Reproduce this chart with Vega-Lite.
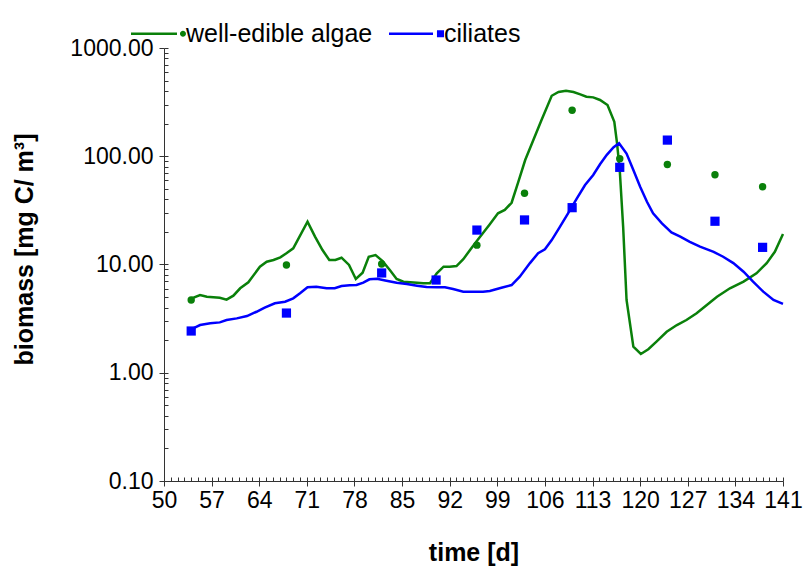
{
  "$schema": "https://vega.github.io/schema/vega-lite/v6.json",
  "width": 619,
  "height": 433,
  "autosize": {"type": "none"},
  "padding": {"left": 164, "top": 48, "right": 21, "bottom": 88},
  "background": "white",
  "config": {
    "view": {"stroke": null},
    "font": "Liberation Sans",
    "axis": {"grid": false}
  },
  "datasets": {
    "model": [
      {"series": "well-edible algae", "t": 53.7, "v": 4.77},
      {"series": "well-edible algae", "t": 55.3, "v": 5.22},
      {"series": "well-edible algae", "t": 56.3, "v": 5.04},
      {"series": "well-edible algae", "t": 58.2, "v": 4.93},
      {"series": "well-edible algae", "t": 59.2, "v": 4.73},
      {"series": "well-edible algae", "t": 60.2, "v": 5.15},
      {"series": "well-edible algae", "t": 61.2, "v": 6.03},
      {"series": "well-edible algae", "t": 62.4, "v": 6.85},
      {"series": "well-edible algae", "t": 64.1, "v": 9.54},
      {"series": "well-edible algae", "t": 65.1, "v": 10.6},
      {"series": "well-edible algae", "t": 66.1, "v": 11.0},
      {"series": "well-edible algae", "t": 67.1, "v": 11.65},
      {"series": "well-edible algae", "t": 68.0, "v": 12.7},
      {"series": "well-edible algae", "t": 69.0, "v": 14.1},
      {"series": "well-edible algae", "t": 71.1, "v": 24.9},
      {"series": "well-edible algae", "t": 72.2, "v": 18.1},
      {"series": "well-edible algae", "t": 73.3, "v": 13.6},
      {"series": "well-edible algae", "t": 74.3, "v": 11.0},
      {"series": "well-edible algae", "t": 75.2, "v": 11.0},
      {"series": "well-edible algae", "t": 76.1, "v": 11.55},
      {"series": "well-edible algae", "t": 77.2, "v": 9.9},
      {"series": "well-edible algae", "t": 78.2, "v": 7.35},
      {"series": "well-edible algae", "t": 79.2, "v": 8.4},
      {"series": "well-edible algae", "t": 80.1, "v": 11.8},
      {"series": "well-edible algae", "t": 81.1, "v": 12.2},
      {"series": "well-edible algae", "t": 82.1, "v": 10.8},
      {"series": "well-edible algae", "t": 83.2, "v": 8.9},
      {"series": "well-edible algae", "t": 84.2, "v": 7.35},
      {"series": "well-edible algae", "t": 85.2, "v": 6.94},
      {"series": "well-edible algae", "t": 87.2, "v": 6.79},
      {"series": "well-edible algae", "t": 88.1, "v": 6.7},
      {"series": "well-edible algae", "t": 89.1, "v": 6.7},
      {"series": "well-edible algae", "t": 90.1, "v": 8.29},
      {"series": "well-edible algae", "t": 91.1, "v": 9.54},
      {"series": "well-edible algae", "t": 92.0, "v": 9.54},
      {"series": "well-edible algae", "t": 93.0, "v": 9.68},
      {"series": "well-edible algae", "t": 94.0, "v": 11.2},
      {"series": "well-edible algae", "t": 95.1, "v": 13.9},
      {"series": "well-edible algae", "t": 96.1, "v": 16.8},
      {"series": "well-edible algae", "t": 97.9, "v": 23.5},
      {"series": "well-edible algae", "t": 99.1, "v": 29.7},
      {"series": "well-edible algae", "t": 100.1, "v": 31.9},
      {"series": "well-edible algae", "t": 101.1, "v": 37.2},
      {"series": "well-edible algae", "t": 102.1, "v": 58.2},
      {"series": "well-edible algae", "t": 103.1, "v": 92.3},
      {"series": "well-edible algae", "t": 104.3, "v": 141},
      {"series": "well-edible algae", "t": 105.5, "v": 216},
      {"series": "well-edible algae", "t": 107.0, "v": 362},
      {"series": "well-edible algae", "t": 108.0, "v": 392},
      {"series": "well-edible algae", "t": 109.1, "v": 403},
      {"series": "well-edible algae", "t": 110.2, "v": 392},
      {"series": "well-edible algae", "t": 111.2, "v": 373},
      {"series": "well-edible algae", "t": 112.1, "v": 355},
      {"series": "well-edible algae", "t": 113.1, "v": 350},
      {"series": "well-edible algae", "t": 114.1, "v": 331},
      {"series": "well-edible algae", "t": 115.2, "v": 297},
      {"series": "well-edible algae", "t": 116.2, "v": 208},
      {"series": "well-edible algae", "t": 116.6, "v": 132},
      {"series": "well-edible algae", "t": 117.0, "v": 74.6},
      {"series": "well-edible algae", "t": 117.5, "v": 22.3},
      {"series": "well-edible algae", "t": 118.0, "v": 4.70},
      {"series": "well-edible algae", "t": 119.0, "v": 1.74},
      {"series": "well-edible algae", "t": 120.1, "v": 1.49},
      {"series": "well-edible algae", "t": 121.2, "v": 1.65},
      {"series": "well-edible algae", "t": 122.4, "v": 1.94},
      {"series": "well-edible algae", "t": 123.9, "v": 2.39},
      {"series": "well-edible algae", "t": 125.4, "v": 2.76},
      {"series": "well-edible algae", "t": 126.8, "v": 3.07},
      {"series": "well-edible algae", "t": 128.3, "v": 3.54},
      {"series": "well-edible algae", "t": 129.8, "v": 4.23},
      {"series": "well-edible algae", "t": 131.3, "v": 5.04},
      {"series": "well-edible algae", "t": 133.2, "v": 6.03},
      {"series": "well-edible algae", "t": 135.2, "v": 6.94},
      {"series": "well-edible algae", "t": 137.1, "v": 8.29},
      {"series": "well-edible algae", "t": 138.6, "v": 10.3},
      {"series": "well-edible algae", "t": 139.8, "v": 13.1},
      {"series": "well-edible algae", "t": 141.0, "v": 19.1},
      {"series": "ciliates", "t": 53.6, "v": 2.54},
      {"series": "ciliates", "t": 54.3, "v": 2.57},
      {"series": "ciliates", "t": 55.3, "v": 2.76},
      {"series": "ciliates", "t": 56.8, "v": 2.86},
      {"series": "ciliates", "t": 58.2, "v": 2.92},
      {"series": "ciliates", "t": 59.2, "v": 3.07},
      {"series": "ciliates", "t": 60.7, "v": 3.18},
      {"series": "ciliates", "t": 62.2, "v": 3.34},
      {"series": "ciliates", "t": 63.6, "v": 3.66},
      {"series": "ciliates", "t": 64.8, "v": 3.99},
      {"series": "ciliates", "t": 66.3, "v": 4.38},
      {"series": "ciliates", "t": 67.8, "v": 4.53},
      {"series": "ciliates", "t": 69.0, "v": 4.87},
      {"series": "ciliates", "t": 70.0, "v": 5.42},
      {"series": "ciliates", "t": 71.1, "v": 6.16},
      {"series": "ciliates", "t": 72.4, "v": 6.24},
      {"series": "ciliates", "t": 73.9, "v": 6.03},
      {"series": "ciliates", "t": 75.1, "v": 6.03},
      {"series": "ciliates", "t": 76.1, "v": 6.33},
      {"series": "ciliates", "t": 77.3, "v": 6.42},
      {"series": "ciliates", "t": 78.3, "v": 6.46},
      {"series": "ciliates", "t": 79.3, "v": 6.79},
      {"series": "ciliates", "t": 80.2, "v": 7.30},
      {"series": "ciliates", "t": 81.3, "v": 7.39},
      {"series": "ciliates", "t": 82.7, "v": 7.08},
      {"series": "ciliates", "t": 84.2, "v": 6.79},
      {"series": "ciliates", "t": 85.7, "v": 6.60},
      {"series": "ciliates", "t": 87.2, "v": 6.37},
      {"series": "ciliates", "t": 88.6, "v": 6.19},
      {"series": "ciliates", "t": 90.1, "v": 6.16},
      {"series": "ciliates", "t": 91.3, "v": 6.16},
      {"series": "ciliates", "t": 92.5, "v": 5.94},
      {"series": "ciliates", "t": 94.0, "v": 5.61},
      {"series": "ciliates", "t": 95.5, "v": 5.61},
      {"series": "ciliates", "t": 96.9, "v": 5.61},
      {"series": "ciliates", "t": 97.9, "v": 5.69},
      {"series": "ciliates", "t": 99.6, "v": 6.10},
      {"series": "ciliates", "t": 101.1, "v": 6.46},
      {"series": "ciliates", "t": 102.3, "v": 7.71},
      {"series": "ciliates", "t": 103.8, "v": 10.3},
      {"series": "ciliates", "t": 105.0, "v": 12.7},
      {"series": "ciliates", "t": 106.0, "v": 13.8},
      {"series": "ciliates", "t": 107.0, "v": 16.8},
      {"series": "ciliates", "t": 108.2, "v": 22.3},
      {"series": "ciliates", "t": 109.4, "v": 29.7},
      {"series": "ciliates", "t": 110.7, "v": 40.9},
      {"series": "ciliates", "t": 111.9, "v": 54.2},
      {"series": "ciliates", "t": 113.1, "v": 67.1},
      {"series": "ciliates", "t": 114.1, "v": 84.3},
      {"series": "ciliates", "t": 115.1, "v": 103},
      {"series": "ciliates", "t": 116.1, "v": 121},
      {"series": "ciliates", "t": 116.9, "v": 132},
      {"series": "ciliates", "t": 118.0, "v": 106},
      {"series": "ciliates", "t": 119.0, "v": 74.6},
      {"series": "ciliates", "t": 120.0, "v": 52.3},
      {"series": "ciliates", "t": 121.0, "v": 38.0},
      {"series": "ciliates", "t": 121.9, "v": 29.7},
      {"series": "ciliates", "t": 123.2, "v": 24.0},
      {"series": "ciliates", "t": 124.6, "v": 19.8},
      {"series": "ciliates", "t": 125.9, "v": 18.1},
      {"series": "ciliates", "t": 127.3, "v": 16.2},
      {"series": "ciliates", "t": 128.8, "v": 14.6},
      {"series": "ciliates", "t": 130.8, "v": 13.1},
      {"series": "ciliates", "t": 132.2, "v": 11.8},
      {"series": "ciliates", "t": 133.7, "v": 10.3},
      {"series": "ciliates", "t": 135.2, "v": 8.58},
      {"series": "ciliates", "t": 136.6, "v": 6.94},
      {"series": "ciliates", "t": 138.1, "v": 5.61},
      {"series": "ciliates", "t": 139.6, "v": 4.70},
      {"series": "ciliates", "t": 141.0, "v": 4.32}
    ],
    "obs": [
      {"series": "well-edible algae", "t": 54, "v": 4.7},
      {"series": "well-edible algae", "t": 68, "v": 9.9},
      {"series": "well-edible algae", "t": 82, "v": 10.1},
      {"series": "well-edible algae", "t": 90, "v": 7.2},
      {"series": "well-edible algae", "t": 96, "v": 15.1},
      {"series": "well-edible algae", "t": 103, "v": 45.5},
      {"series": "well-edible algae", "t": 110, "v": 266},
      {"series": "well-edible algae", "t": 117, "v": 95},
      {"series": "well-edible algae", "t": 124, "v": 84},
      {"series": "well-edible algae", "t": 131, "v": 67.5},
      {"series": "well-edible algae", "t": 138, "v": 52.3},
      {"series": "ciliates", "t": 54, "v": 2.43},
      {"series": "ciliates", "t": 68, "v": 3.56},
      {"series": "ciliates", "t": 82, "v": 8.35},
      {"series": "ciliates", "t": 90, "v": 7.19},
      {"series": "ciliates", "t": 96, "v": 20.8},
      {"series": "ciliates", "t": 103, "v": 25.8},
      {"series": "ciliates", "t": 110, "v": 33.5},
      {"series": "ciliates", "t": 117, "v": 79},
      {"series": "ciliates", "t": 124, "v": 141},
      {"series": "ciliates", "t": 131, "v": 25.1},
      {"series": "ciliates", "t": 138, "v": 14.4}
    ]
  },
  "layer": [
    {
      "data": {"name": "model"},
      "mark": {"type": "line", "strokeWidth": 2.5},
      "encoding": {
        "x": {
          "field": "t", "type": "quantitative",
          "scale": {"domain": [50, 141], "nice": false, "zero": false},
          "axis": {
            "orient": "bottom", "title": null, "labels": false, "domain": false,
            "values": [50,51,52,53,54,55,56,57,58,59,60,61,62,63,64,65,66,67,68,69,70,71,72,73,74,75,76,77,78,79,80,81,82,83,84,85,86,87,88,89,90,91,92,93,94,95,96,97,98,99,100,101,102,103,104,105,106,107,108,109,110,111,112,113,114,115,116,117,118,119,120,121,122,123,124,125,126,127,128,129,130,131,132,133,134,135,136,137,138,139,140,141],
            "tickSize": -4, "tickColor": "#333", "tickWidth": 1
          }
        },
        "y": {
          "field": "v", "type": "quantitative",
          "scale": {"type": "log", "domain": [0.1, 1000], "nice": false},
          "axis": {
            "orient": "left", "title": null, "labels": false, "domain": false,
            "values": [0.1,0.2,0.3,0.4,0.5,0.6,0.7,0.8,0.9,1,2,3,4,5,6,7,8,9,10,20,30,40,50,60,70,80,90,100,200,300,400,500,600,700,800,900,1000],
            "tickSize": -4, "tickColor": "#333", "tickWidth": 1
          }
        },
        "color": {
          "field": "series", "type": "nominal",
          "scale": {"domain": ["well-edible algae", "ciliates"], "range": ["#0a800a", "#0000ff"]},
          "legend": {
            "title": null, "orient": "none", "legendX": -33, "legendY": -42,
            "direction": "horizontal", "columns": 2, "columnPadding": 16,
            "padding": 0, "symbolSize": 3025, "symbolStrokeWidth": 0,
            "labelFontSize": 25, "labelColor": "black", "labelFont": "Liberation Sans",
            "labelLimit": 400, "labelOffset": 0,
            "encode": {
              "symbols": {
                "update": {
                  "shape": {"signal": "datum.value === 'ciliates' ? 'M-1,-0.0454L0.6,-0.0454L0.6,0.0454L-1,0.0454ZM0.744,-0.128L1,-0.128L1,0.128L0.744,0.128Z' : 'M-1,-0.0454L0.672,-0.0454L0.672,0.0454L-1,0.0454ZM0.781,0A0.109,0.109 0 1,0 0.999,0A0.109,0.109 0 1,0 0.781,0Z'"},
                  "fill": {"scale": "color", "field": "value"},
                  "strokeWidth": {"value": 0},
                  "opacity": {"value": 1}
                }
              }
            }
          }
        }
      }
    },
    {
      "data": {"name": "obs"},
      "mark": {"type": "point", "filled": true, "opacity": 1},
      "encoding": {
        "x": {
          "field": "t", "type": "quantitative",
          "axis": {
            "orient": "bottom", "title": "time [d]",
            "values": [50,57,64,71,78,85,92,99,106,113,120,127,134,141],
            "tickSize": 5, "tickColor": "#333", "tickWidth": 1,
            "domainColor": "#333", "domainWidth": 1,
            "labelFontSize": 23, "labelColor": "black", "labelPadding": 3, "labelFlush": false, "labelOverlap": false,
            "titleFontSize": 25, "titleFontWeight": "bold", "titleColor": "black", "titlePadding": 28
          }
        },
        "y": {
          "field": "v", "type": "quantitative",
          "axis": {
            "orient": "left", "title": "biomass [mg C/ m³]",
            "values": [0.1, 1, 10, 100, 1000], "format": ".2f",
            "tickSize": 5, "tickColor": "#333", "tickWidth": 1,
            "domainColor": "#333", "domainWidth": 1,
            "labelFontSize": 23, "labelColor": "black", "labelPadding": 6, "labelFlush": false, "labelOverlap": false,
            "titleFontSize": 25, "titleFontWeight": "bold", "titleColor": "black", "titlePadding": 32, "titleY": 201
          }
        },
        "color": {"field": "series", "type": "nominal", "legend": null},
        "shape": {
          "field": "series", "type": "nominal", "sort": null,
          "scale": {"range": ["circle", "square"]},
          "legend": null
        },
        "size": {
          "field": "series", "type": "nominal", "sort": null,
          "scale": {"range": [55, 85]},
          "legend": null
        }
      }
    }
  ],
  "resolve": {"axis": {"x": "independent", "y": "independent"}}
}
